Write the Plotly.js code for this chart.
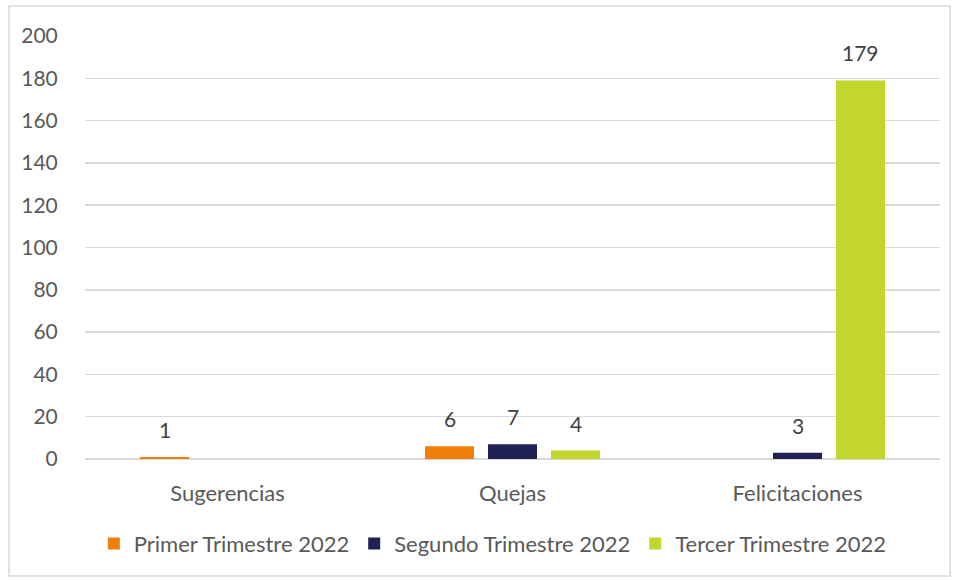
<!DOCTYPE html>
<html>
<head>
<meta charset="utf-8">
<script src="https://cdn.plot.ly/plotly-3.0.1.min.js"></script>
<style>
html,body{margin:0;padding:0;background:#fff;}
#chart{width:957px;height:580px;}
</style>
</head>
<body>
<div id="chart"></div>
<script>
const categories = ["Sugerencias", "Quejas", "Felicitaciones"];
const seriesNames = ["Primer Trimestre 2022", "Segundo Trimestre 2022", "Tercer Trimestre 2022"];
const primer = [1, 6, null];
const segundo = [null, 7, 3];
const tercer = [null, 4, 179];
const yTicks = [0, 20, 40, 60, 80, 100, 120, 140, 160, 180, 200];

const colors = ["#F07F09", "#1F2154", "#C2D62E"];
const allSeries = [primer, segundo, tercer];
const font = "Lato, 'Open Sans', sans-serif";
const textColor = "#595959";

const traces = allSeries.map((vals, i) => ({
  type: "bar",
  name: seriesNames[i],
  x: categories,
  y: vals,
  marker: {color: colors[i]},
  hoverinfo: "x+y+name"
}));

const slotPx = 63;
const annotations = [];
allSeries.forEach((vals, i) => {
  vals.forEach((v, j) => {
    if (v !== null) {
      annotations.push({
        x: categories[j], y: v, xref: "x", yref: "y",
        text: String(v), showarrow: false,
        yanchor: "bottom", xanchor: "center",
        xshift: (i - 1) * slotPx, yshift: 13,
        font: {family: font, size: 21, color: "#404040"}
      });
    }
  });
});

const layout = {
  width: 957, height: 580,
  margin: {l: 85, r: 17, t: 36, b: 121},
  paper_bgcolor: "#fff", plot_bgcolor: "#fff",
  barmode: "group",
  bargap: 0.337,
  bargroupgap: 0.222,
  font: {family: font, size: 22, color: textColor},
  showlegend: true,
  legend: {
    orientation: "h", x: 0.477, xanchor: "center", y: -0.2, yanchor: "middle",
    font: {family: font, size: 22, color: textColor},
    itemwidth: 30, traceorder: "normal"
  },
  xaxis: {
    type: "category",
    showgrid: false, zeroline: false, showline: false,
    ticks: "outside", ticklen: 15, tickcolor: "rgba(0,0,0,0)",
    tickfont: {family: font, size: 22, color: textColor},
    fixedrange: true
  },
  yaxis: {
    range: [0, 200],
    tickvals: yTicks,
    ticktext: yTicks.map(String),
    showgrid: true, gridcolor: "#D9D9D9", gridwidth: 1.5,
    zeroline: true, zerolinecolor: "#D9D9D9", zerolinewidth: 1.5,
    showline: false,
    ticks: "outside", ticklen: 22, tickcolor: "rgba(0,0,0,0)",
    tickfont: {family: font, size: 21, color: textColor},
    fixedrange: true
  },
  annotations: annotations,
  shapes: [{
    type: "rect", xref: "paper", yref: "paper",
    x0: -0.0889, x1: 1.0117, y0: -0.2766, y1: 1.0709,
    line: {color: "#D9D9D9", width: 1.5}, fillcolor: "rgba(0,0,0,0)", layer: "below"
  }]
};

Plotly.newPlot("chart", traces, layout, {displayModeBar: false, staticPlot: true});
</script>
</body>
</html>
